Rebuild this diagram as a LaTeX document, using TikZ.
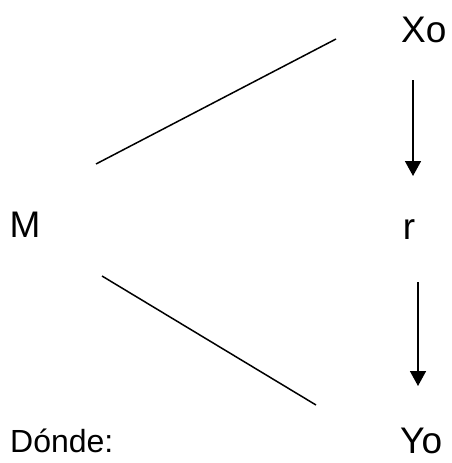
\documentclass[tikz,border=0pt]{standalone}
\usepackage{fontspec}
\setmainfont{Liberation Sans}
\usetikzlibrary{arrows.meta}
\begin{document}
\begin{tikzpicture}[x=1pt,y=-1pt,
  lbl/.style={inner sep=0pt, anchor=base west, font=\fontsize{37}{40}\selectfont},
  small/.style={inner sep=0pt, anchor=base west, font=\fontsize{32}{36}\selectfont},
  ln/.style={line width=1.5pt},
  arr/.style={line width=1.6pt, -{Triangle[width=16pt,length=15pt]}}]
\useasboundingbox (0,0) rectangle (452,463);
\node[lbl] (Xo) at (401,42) {Xo};
\node[lbl] (M) at (9.5,237) {M};
\node[lbl] (r) at (402.6,239) {r};
\node[lbl] (Yo) at (400,453) {Yo};
\node[small] (donde) at (10,452) {Dónde:};
\coordinate (l1a) at (96,164);
\coordinate (l1b) at (336,39);
\coordinate (l2a) at (102,276);
\coordinate (l2b) at (316,405);
\coordinate (a1s) at (413,80);
\coordinate (a1e) at (413,176);
\coordinate (a2s) at (418,282);
\coordinate (a2e) at (418,386);
\draw[ln] (l1a) -- (l1b);
\draw[ln] (l2a) -- (l2b);
\draw[arr] (a1s) -- (a1e);
\draw[arr] (a2s) -- (a2e);
\end{tikzpicture}
\end{document}
